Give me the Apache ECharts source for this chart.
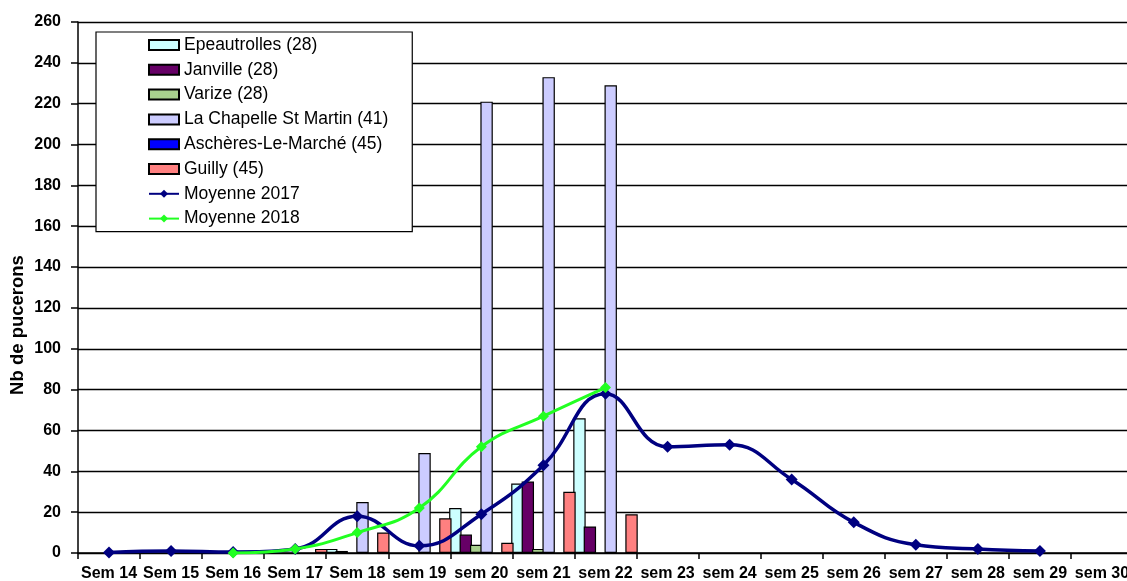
<!DOCTYPE html>
<html>
<head>
<meta charset="utf-8">
<script src="https://cdn.jsdelivr.net/npm/echarts@6/dist/echarts.min.js"></script>
<style>html,body{margin:0;padding:0;background:#fff}#chart{width:1127px;height:581px}</style>
</head>
<body>
<div id="chart"></div>
<script>
var categories = ['Sem 14','Sem 15','Sem 16','Sem 17','Sem 18','sem 19','sem 20','sem 21','sem 22','sem 23','sem 24','sem 25','sem 26','sem 27','sem 28','sem 29','sem 30'];
var epeautrolles = [null,null,null,null,2,null,22,34,66,null,null,null,null,null,null,null,null];
var janville     = [null,null,null,null,1,null,9,35,13,null,null,null,null,null,null,null,null];
var varize       = [null,null,null,null,null,null,4,2,null,null,null,null,null,null,null,null,null];
var laChapelle   = [null,null,null,null,25,49,221,233,229,null,null,null,null,null,null,null,null];
var ascheres     = [null,null,null,null,null,null,null,null,null,null,null,null,null,null,null,null,null];
var guilly       = [null,null,null,2,10,17,5,30,19,null,null,null,null,null,null,null,null];
var moy2017      = [0.3,1,0.5,2,18,3.5,19,43,78,52,53,36,15,4,2,1,null];
var moy2018      = [null,null,0,2,10,22,52,67,81,null,null,null,null,null,null,null,null];
var yTicks = {min:0, max:260, interval:20};

var FONT = 'Liberation Sans, Arial, sans-serif';
function barSeries(name, data, color){
  return {name:name, type:'bar', data:data, barWidth:12.4, barGap:'-16%',
    itemStyle:{color:color, borderColor:'#000', borderWidth:1.2}};
}
var chart = echarts.init(document.getElementById('chart'));
chart.setOption({
  animation:false,
  backgroundColor:'#fff',
  grid:{left:78, width:1055, top:22, height:531, containLabel:false, outerBoundsMode:'none'},
  legend:{
    orient:'vertical', left:96, top:32,
    padding:[4,24,4,52], itemGap:6.8, itemWidth:30, itemHeight:10,
    backgroundColor:'#fff', borderColor:'#000', borderWidth:1.2, borderRadius:0,
    textStyle:{fontFamily:FONT, fontSize:17.5, color:'#000', lineHeight:17},
    data:[
      {name:'Epeautrolles (28)', icon:'rect'},
      {name:'Janville (28)', icon:'rect'},
      {name:'Varize (28)', icon:'rect'},
      {name:'La Chapelle St Martin (41)', icon:'rect'},
      {name:'Aschères-Le-Marché (45)', icon:'rect'},
      {name:'Guilly (45)', icon:'rect'},
      {name:'Moyenne 2017'},
      {name:'Moyenne 2018'}
    ]
  },
  xAxis:{
    type:'category', data:categories, boundaryGap:true,
    axisLine:{lineStyle:{color:'#000', width:1.5}},
    axisTick:{show:true, length:6, lineStyle:{color:'#000', width:1.5}},
    axisLabel:{interval:0, fontFamily:FONT, fontWeight:'bold', fontSize:16, color:'#000', margin:13},
    splitLine:{show:false}
  },
  yAxis:{
    type:'value', min:yTicks.min, max:yTicks.max, interval:yTicks.interval,
    axisLine:{show:true, lineStyle:{color:'#000', width:1.5}},
    axisTick:{show:true, length:7, lineStyle:{color:'#000', width:1.5}},
    axisLabel:{fontFamily:FONT, fontWeight:'bold', fontSize:16, color:'#000', margin:17},
    splitLine:{show:true, lineStyle:{color:'#000', width:1.3}}
  },
  graphic:[{
    type:'text', x:18, y:325, rotation:Math.PI/2,
    style:{text:'Nb de pucerons', font:'bold 18.5px ' + FONT, fill:'#000', textAlign:'center', textVerticalAlign:'middle'}
  }],
  series:[
    barSeries('Epeautrolles (28)', epeautrolles, '#CCFFFF'),
    barSeries('Janville (28)', janville, '#660066'),
    barSeries('Varize (28)', varize, '#A9D18E'),
    barSeries('La Chapelle St Martin (41)', laChapelle, '#CCCCFF'),
    barSeries('Aschères-Le-Marché (45)', ascheres, '#0000FF'),
    barSeries('Guilly (45)', guilly, '#FF8080'),
    {name:'Moyenne 2017', type:'line', data:moy2017, smooth:0.45, connectNulls:false,
      symbol:'diamond', symbolSize:12, showAllSymbol:true,
      lineStyle:{color:'#000080', width:3.5}, itemStyle:{color:'#000080'}, z:5},
    {name:'Moyenne 2018', type:'line', data:moy2018, smooth:0.45,
      symbol:'diamond', symbolSize:11, showAllSymbol:true,
      lineStyle:{color:'#22FF22', width:3}, itemStyle:{color:'#22FF22'}, z:6}
  ]
});
</script>
</body>
</html>
